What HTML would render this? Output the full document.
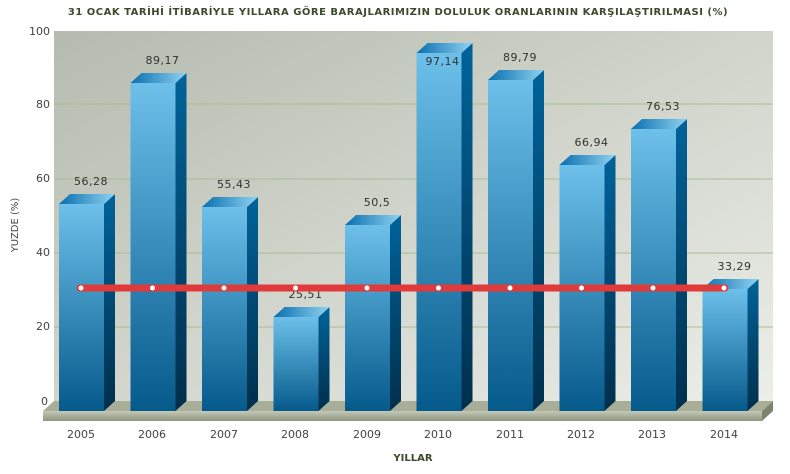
<!DOCTYPE html>
<html><head><style>body{margin:0;background:#fff}</style></head><body>
<svg width="790" height="469" xmlns="http://www.w3.org/2000/svg" font-family="Verdana, 'DejaVu Sans', sans-serif">
<defs>
<linearGradient id="wall" x1="0" y1="0" x2="1" y2="1"><stop offset="0" stop-color="#b5bbaf"/><stop offset="1" stop-color="#eceee8"/></linearGradient>
<linearGradient id="front" x1="0" y1="0" x2="0" y2="1"><stop offset="0" stop-color="#6cc0ea"/><stop offset="1" stop-color="#055a8c"/></linearGradient>
<linearGradient id="side" x1="0" y1="0" x2="0" y2="1"><stop offset="0" stop-color="#00639a"/><stop offset="1" stop-color="#002f4c"/></linearGradient>
<linearGradient id="top" x1="0" y1="0" x2="1" y2="0"><stop offset="0" stop-color="#0a6fae"/><stop offset="1" stop-color="#8fd2f2"/></linearGradient>
<linearGradient id="floor" x1="0" y1="0" x2="0" y2="1"><stop offset="0" stop-color="#c4c9b8"/><stop offset="1" stop-color="#8e957f"/></linearGradient>
<g id="b">
</g>
</defs>
<text x="398" y="15" text-anchor="middle" font-size="10" font-weight="bold" fill="#3a4a2a" letter-spacing="0.5">31 OCAK TARİHİ İTİBARİYLE YILLARA GÖRE BARAJLARIMIZIN DOLULUK ORANLARININ KARŞILAŞTIRILMASI (%)</text>
<rect x="54" y="31" width="719" height="370" fill="url(#wall)"/>
<g stroke="#a9bd93" stroke-width="1">
<line x1="54" y1="327" x2="773" y2="327"/><line x1="54" y1="253" x2="773" y2="253"/><line x1="54" y1="179" x2="773" y2="179"/><line x1="54" y1="104" x2="773" y2="104"/>
</g>
<polygon points="43,411 54,401 773,401 762,411" fill="#a8ae98"/>
<rect x="43" y="411" width="719" height="10" fill="url(#floor)"/>
<polygon points="762,411 773,401 773,411 762,421" fill="#7d846e"/>
<g font-size="11" fill="#444" text-anchor="end">
<text x="50" y="35">100</text><text x="50" y="108">80</text><text x="50" y="182">60</text><text x="50" y="256">40</text><text x="50" y="330">20</text><text x="48" y="405">0</text>
</g>
<text transform="translate(18,225) rotate(-90)" text-anchor="middle" font-size="10" fill="#444">YUZDE (%)</text>

<g font-size="11" fill="#333" text-anchor="middle" letter-spacing="0.5">
<g transform="translate(59,0)"><polygon points="45,204 56,194 56,401 45,411" fill="url(#side)"/><polygon points="0,204 11,194 56,194 45,204" fill="url(#top)"/><rect x="0" y="204" width="45" height="207" fill="url(#front)"/><text x="32" y="185">56,28</text></g>
<g transform="translate(130.5,0)"><polygon points="45,83 56,73 56,401 45,411" fill="url(#side)"/><polygon points="0,83 11,73 56,73 45,83" fill="url(#top)"/><rect x="0" y="83" width="45" height="328" fill="url(#front)"/><text x="32" y="64">89,17</text></g>
<g transform="translate(202,0)"><polygon points="45,207 56,197 56,401 45,411" fill="url(#side)"/><polygon points="0,207 11,197 56,197 45,207" fill="url(#top)"/><rect x="0" y="207" width="45" height="204" fill="url(#front)"/><text x="32" y="188">55,43</text></g>
<g transform="translate(273.5,0)"><polygon points="45,317 56,307 56,401 45,411" fill="url(#side)"/><polygon points="0,317 11,307 56,307 45,317" fill="url(#top)"/><rect x="0" y="317" width="45" height="94" fill="url(#front)"/><text x="32" y="298">25,51</text></g>
<g transform="translate(345,0)"><polygon points="45,225 56,215 56,401 45,411" fill="url(#side)"/><polygon points="0,225 11,215 56,215 45,225" fill="url(#top)"/><rect x="0" y="225" width="45" height="186" fill="url(#front)"/><text x="32" y="206">50,5</text></g>
<g transform="translate(416.5,0)"><polygon points="45,53 56,43 56,401 45,411" fill="url(#side)"/><polygon points="0,53 11,43 56,43 45,53" fill="url(#top)"/><rect x="0" y="53" width="45" height="358" fill="url(#front)"/><text x="26" y="65">97,14</text></g>
<g transform="translate(488,0)"><polygon points="45,80 56,70 56,401 45,411" fill="url(#side)"/><polygon points="0,80 11,70 56,70 45,80" fill="url(#top)"/><rect x="0" y="80" width="45" height="331" fill="url(#front)"/><text x="32" y="61">89,79</text></g>
<g transform="translate(559.5,0)"><polygon points="45,165 56,155 56,401 45,411" fill="url(#side)"/><polygon points="0,165 11,155 56,155 45,165" fill="url(#top)"/><rect x="0" y="165" width="45" height="246" fill="url(#front)"/><text x="32" y="146">66,94</text></g>
<g transform="translate(631,0)"><polygon points="45,129 56,119 56,401 45,411" fill="url(#side)"/><polygon points="0,129 11,119 56,119 45,129" fill="url(#top)"/><rect x="0" y="129" width="45" height="282" fill="url(#front)"/><text x="32" y="110">76,53</text></g>
<g transform="translate(702.5,0)"><polygon points="45,289 56,279 56,401 45,411" fill="url(#side)"/><polygon points="0,289 11,279 56,279 45,289" fill="url(#top)"/><rect x="0" y="289" width="45" height="122" fill="url(#front)"/><text x="32" y="270">33,29</text></g>
</g>
<line x1="80" y1="288" x2="725" y2="288" stroke="#e03a3a" stroke-width="7" stroke-linecap="round"/>
<g fill="#fff">
<circle cx="81" cy="288" r="2.5"/><circle cx="152.5" cy="288" r="2.5"/><circle cx="224" cy="288" r="2.5"/><circle cx="295.5" cy="288" r="2.5"/><circle cx="367" cy="288" r="2.5"/><circle cx="438.5" cy="288" r="2.5"/><circle cx="510" cy="288" r="2.5"/><circle cx="581.5" cy="288" r="2.5"/><circle cx="653" cy="288" r="2.5"/><circle cx="724" cy="288" r="2.5"/>
</g>
<g font-size="11" fill="#444" text-anchor="middle">
<text x="81" y="438">2005</text><text x="152" y="438">2006</text><text x="224" y="438">2007</text><text x="295" y="438">2008</text><text x="367" y="438">2009</text><text x="438" y="438">2010</text><text x="510" y="438">2011</text><text x="581" y="438">2012</text><text x="652" y="438">2013</text><text x="724" y="438">2014</text>
</g>
<text x="413" y="461" text-anchor="middle" font-size="10" font-weight="bold" fill="#3a4a2a">YILLAR</text>
</svg>
</body></html>
